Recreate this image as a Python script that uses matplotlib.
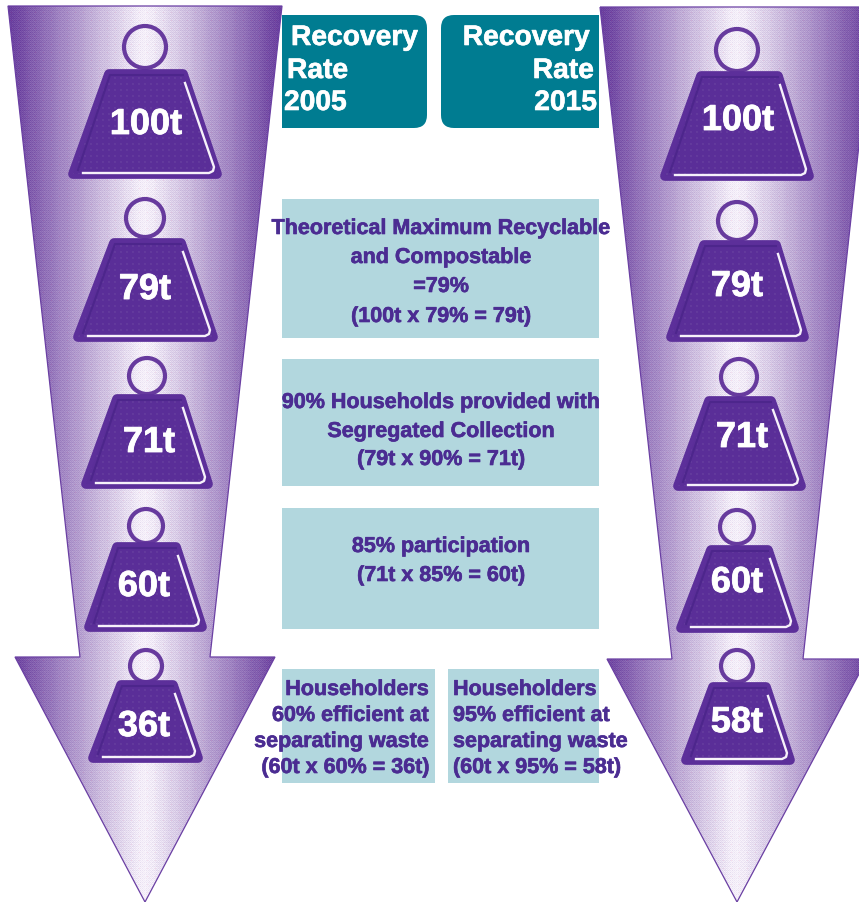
import numpy as np
import matplotlib
matplotlib.use('Agg')
import matplotlib.pyplot as plt
import matplotlib.patheffects as pe
from matplotlib.patches import Polygon, Circle, Rectangle, FancyBboxPatch

plt.rcParams['font.family'] = ['Liberation Sans', 'DejaVu Sans']

# tonnes left at each stage
tonnes_2005 = [100, 79, 71, 60, 36]
tonnes_2015 = [100, 79, 71, 60, 58]

titles_2005 = ['Recovery', 'Rate', '2005']
titles_2015 = ['Recovery', 'Rate', '2015']

stage_max = ['Theoretical Maximum Recyclable', 'and Compostable', '=79%', '(100t x 79% = 79t)']
stage_collection = ['90% Households provided with', 'Segregated Collection', '(79t x 90% = 71t)']
stage_participation = ['85% participation', '(71t x 85% = 60t)']
stage_eff_2005 = ['Householders', '60% efficient at', 'separating waste', '(60t x 60% = 36t)']
stage_eff_2015 = ['Householders', '95% efficient at', 'separating waste', '(60t x 95% = 58t)']

TEAL = '#007c91'
PALE = '#b2d7de'
INK = '#4b2c92'
PURPLE = '#5c2f9a'
DARK_EDGE = '#4d268c'

# pixel layout: left, top-left, top-right, right, top, bottom, ring x, ring y, ring radius, label x, baseline
weights_left = [
    (68, 105, 187, 222, 70, 180, 145, 48, 21, 146, 135),
    (73, 110, 185, 218, 239, 343, 145, 219, 19, 145, 300),
    (81, 113, 185, 213, 395, 490, 147, 377, 18, 149, 453),
    (84, 113, 180, 207, 543, 633, 146, 527, 17, 144, 597),
    (88, 117, 177, 203, 681, 764, 146, 667, 16, 144, 737),
]
weights_right = [
    (660, 697, 782, 814, 72, 182, 737, 51, 21, 738, 131),
    (666, 700, 780, 809, 241, 343, 737, 222, 19, 737, 297),
    (673, 705, 775, 806, 397, 492, 739, 378, 18, 742, 448),
    (676, 707, 772, 799, 546, 634, 737, 528, 17, 737, 593),
    (681, 709, 770, 795, 683, 766, 737, 667, 16, 737, 733),
]

arrow_left = [(8, 7), (282, 7), (210, 658), (275, 658), (145, 903), (15, 658), (80, 658)]
arrow_right = [(600, 8), (874, 8), (803, 660), (867, 660), (737, 903), (607, 660), (672, 660)]

BAYER = np.array([[0, 8, 2, 10], [12, 4, 14, 6], [3, 11, 1, 9], [15, 7, 13, 5]]) / 16.0


def lerp_colour(t, a, b):
    a = np.array(matplotlib.colors.to_rgb(a))
    b = np.array(matplotlib.colors.to_rgb(b))
    return a + (b - a) * t[..., None]


def clipped_image(ax, rgb, x0, x1, y0, y1, patch):
    im = ax.imshow(rgb, extent=(x0, x1, y1, y0), origin='upper', interpolation='bilinear', zorder=patch.get_zorder())
    im.set_clip_path(patch)


def draw_arrow(ax, points, centre):
    patch = Polygon(points, closed=True, facecolor='none', edgecolor='none', zorder=1)
    ax.add_patch(patch)
    xs = np.arange(centre - 137, centre + 137)
    ys = np.arange(7, 903)
    xx, yy = np.meshgrid(xs, ys)
    t = np.abs(xx + 0.5 - centre) / 137.0
    # ordered dither gives the printed halftone look
    dots = BAYER[yy % 4, xx % 4] - 0.47
    level = np.clip(t ** 1.05 + dots * 0.17, 0, 1)
    level = np.round(level * 24) / 24
    rgb = lerp_colour(level, '#f8f3fb', '#673c9d')
    pink = (xx % 8 == 3) & (yy % 8 == 5)
    rgb[pink] = rgb[pink] * 0.93 + np.array([0.07, 0.0, 0.02])
    clipped_image(ax, rgb, xs[0], xs[-1] + 1, ys[0], ys[-1] + 1, patch)
    ax.add_patch(Polygon(points, closed=True, facecolor='none', edgecolor='#6a3fa3', linewidth=0.9, zorder=2))


def draw_weight(ax, layout, tonnes):
    left, tl, tr, right, top, bottom, rx, ry, rr, lx, base = layout
    ax.add_patch(Circle((rx, ry), rr, facecolor='none', edgecolor='#673a9e', linewidth=3.0, zorder=3))
    outer = [(left + 5, bottom - 5), (tl + 4, top + 5), (tr - 4, top + 5), (right - 5, bottom - 5)]
    ax.add_patch(Polygon(outer, closed=True, facecolor=PURPLE, edgecolor=PURPLE, linewidth=7, joinstyle='round', zorder=4))
    # faint dot screen on the body
    patch = Polygon(outer, closed=True, facecolor='none', edgecolor='none', zorder=5)
    ax.add_patch(patch)
    xs = np.arange(left, right)
    ys = np.arange(top, bottom)
    xx, yy = np.meshgrid(xs, ys)
    level = ((xx % 6 < 2) & (yy % 6 < 2)).astype(float)
    clipped_image(ax, lerp_colour(level, '#5a2e98', '#633a9d'), left, right, top, bottom, patch)
    # shading lines along the inside edge
    ax.plot([left + 10, tl + 5, tr - 4], [bottom - 9, top + 6, top + 6], color=DARK_EDGE, linewidth=1.5, solid_joinstyle='round', zorder=6)
    ax.plot([tr - 2, right - 8, right - 9, right - 13, left + 15],
            [top + 14, bottom - 12, bottom - 8, bottom - 6, bottom - 6],
            color='#f6f1fa', linewidth=1.7, solid_joinstyle='round', zorder=6)
    label = ax.text(lx, base, '%dt' % tonnes, color='white', fontsize=26, fontweight='bold', ha='center', va='baseline', zorder=7)
    label.set_path_effects([pe.withStroke(linewidth=0.6, foreground='white')])


def write_lines(ax, lines, xs, baselines, ha, colour=INK, size=15.5):
    for line, x, y in zip(lines, xs, baselines):
        t = ax.text(x, y, line, color=colour, fontsize=size, fontweight='bold', ha=ha, va='baseline', zorder=9)
        t.set_path_effects([pe.withStroke(linewidth=0.45, foreground=colour)])


fig = plt.figure(figsize=(8.59, 9.03), dpi=100)
ax = fig.add_axes([0, 0, 1, 1])

draw_arrow(ax, arrow_left, 145)
draw_arrow(ax, arrow_right, 737)

# header boxes are rounded on the side away from the arrow
ax.add_patch(FancyBboxPatch((290, 24), 129, 97, boxstyle='round,pad=8,rounding_size=13', facecolor=TEAL, edgecolor='none', zorder=3))
ax.add_patch(Rectangle((282, 16), 40, 113, facecolor=TEAL, edgecolor='none', zorder=3))
ax.add_patch(FancyBboxPatch((449, 24), 142, 97, boxstyle='round,pad=8,rounding_size=13', facecolor=TEAL, edgecolor='none', zorder=3))
ax.add_patch(Rectangle((560, 16), 39, 113, facecolor=TEAL, edgecolor='none', zorder=3))

for x0, x1, y0, y1 in [(282, 599, 200, 339), (282, 599, 360, 487), (282, 599, 509, 630), (282, 435, 670, 784), (448, 599, 670, 784)]:
    ax.add_patch(Rectangle((x0, y0), x1 - x0, y1 - y0, facecolor=PALE, edgecolor='none', zorder=3))

for layout, t in zip(weights_left, tonnes_2005):
    draw_weight(ax, layout, t)
for layout, t in zip(weights_right, tonnes_2015):
    draw_weight(ax, layout, t)

write_lines(ax, titles_2005, [291, 287, 284], [46, 79, 111], 'left', 'white', 20.3)
write_lines(ax, titles_2015, [590, 594, 597], [46, 79, 111], 'right', 'white', 20.3)

write_lines(ax, stage_max, [441] * 4, [235, 264, 293, 323], 'center')
write_lines(ax, stage_collection, [441] * 3, [409, 438, 466], 'center')
write_lines(ax, stage_participation, [441] * 2, [553, 582], 'center')
write_lines(ax, stage_eff_2005, [429] * 4, [696, 722, 748, 774], 'right')
write_lines(ax, stage_eff_2015, [453] * 4, [696, 722, 748, 774], 'left')

ax.set_xlim(0, 859)
ax.set_ylim(903, 0)
ax.set_aspect('auto')
ax.axis('off')

fig.savefig('out.png', dpi=100, facecolor='white')
